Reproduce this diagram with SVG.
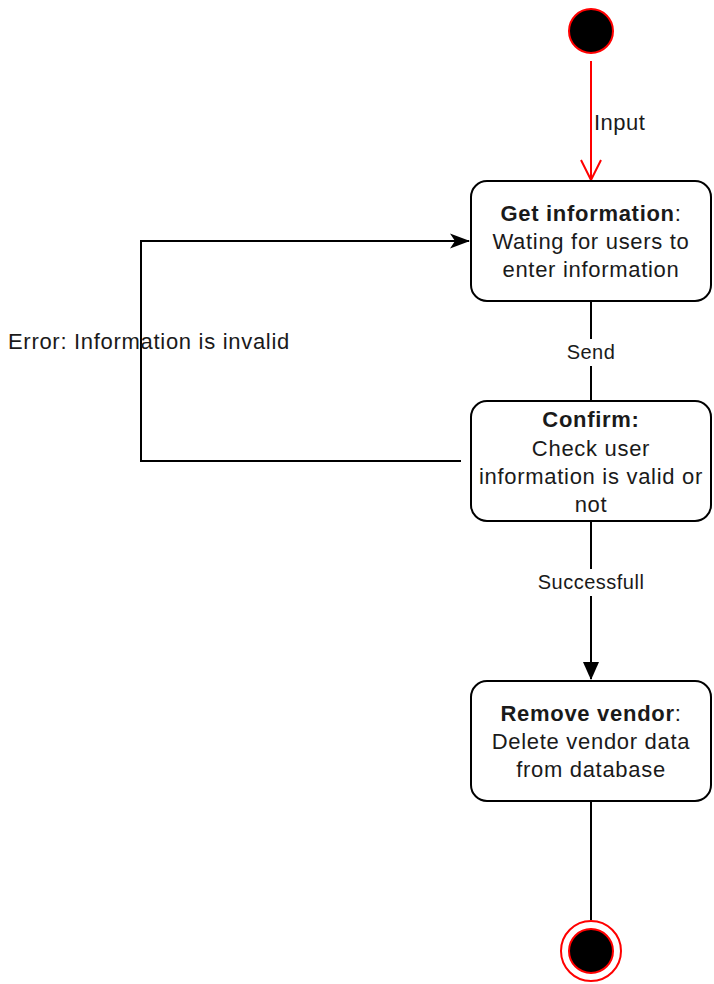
<svg xmlns="http://www.w3.org/2000/svg" width="714" height="984" viewBox="0 0 714 984">
<style>
.box{fill:#fff;stroke:#000;stroke-width:2}
.t{font-family:"Liberation Sans",Arial,sans-serif;font-size:22px;letter-spacing:0.7px;fill:#1a1a1a;text-anchor:middle}
.b{font-weight:bold}
.lbl{font-family:"Liberation Sans",Arial,sans-serif;font-size:20px;letter-spacing:0.5px;fill:#1a1a1a;text-anchor:middle}
.edge{fill:none;stroke:#000;stroke-width:2}
</style>
<defs>
<marker id="block" viewBox="0 0 18 16" refX="17" refY="8" markerWidth="18" markerHeight="16" markerUnits="userSpaceOnUse" orient="auto">
<path d="M0,0 L18,8 L0,16 Z" fill="#000"/>
</marker>
<marker id="classic" viewBox="0 0 20 16" refX="19" refY="8" markerWidth="20" markerHeight="16" markerUnits="userSpaceOnUse" orient="auto">
<path d="M0,0.5 L20,8 L0,15.5 L5,8 Z" fill="#000"/>
</marker>
<marker id="open" viewBox="0 0 24 24" refX="22" refY="12" markerWidth="24" markerHeight="24" markerUnits="userSpaceOnUse" orient="auto">
<path d="M2,2 L22,12 L2,22" fill="none" stroke="#ff0000" stroke-width="2"/>
</marker>
</defs>
<g id="connectors">
<line x1="591" y1="61" x2="591" y2="180" stroke="#ff0000" stroke-width="2" marker-end="url(#open)"/>
<text class="lbl" x="594" y="130" style="text-anchor:start;font-size:22px">Input</text>
<line class="edge" x1="591" y1="301" x2="591" y2="401"/>
<rect x="563" y="339" width="56" height="27" fill="#fff"/>
<text class="lbl" x="591" y="359">Send</text>
<line class="edge" x1="591" y1="521" x2="591" y2="679" marker-end="url(#block)"/>
<rect x="534" y="569" width="114" height="27" fill="#fff"/>
<text class="lbl" x="591" y="589">Successfull</text>
<polyline class="edge" points="461,461 141,461 141,241 469,241" marker-end="url(#classic)"/>
<text class="t" x="8" y="349" style="text-anchor:start">Error: Information is invalid</text>
<line class="edge" x1="591" y1="801" x2="591" y2="920"/>
</g>
<g id="start">
<circle cx="591" cy="31" r="22" fill="#000" stroke="#ff0000" stroke-width="2"/>
</g>
<g id="get-information">
<rect class="box" x="471" y="181" width="240" height="120" rx="16" ry="16"/>
<text class="t" x="591" y="221"><tspan class="b">Get information</tspan>:</text>
<text class="t" x="591" y="249">Wating for users to</text>
<text class="t" x="591" y="277">enter information</text>
</g>
<g id="confirm">
<rect class="box" x="471" y="401" width="240" height="120" rx="16" ry="16"/>
<text class="t b" x="591" y="427">Confirm:</text>
<text class="t" x="591" y="455.5">Check user</text>
<text class="t" x="591" y="484">information is valid or</text>
<text class="t" x="591" y="512">not</text>
</g>
<g id="remove-vendor">
<rect class="box" x="471" y="681" width="240" height="120" rx="16" ry="16"/>
<text class="t" x="591" y="721"><tspan class="b">Remove vendor</tspan>:</text>
<text class="t" x="591" y="749">Delete vendor data</text>
<text class="t" x="591" y="777">from database</text>
</g>
<g id="end">
<circle cx="591" cy="951" r="30" fill="#fff" stroke="#ff0000" stroke-width="2"/>
<circle cx="591" cy="951" r="22" fill="#000" stroke="#ff0000" stroke-width="2"/>
</g>
</svg>
